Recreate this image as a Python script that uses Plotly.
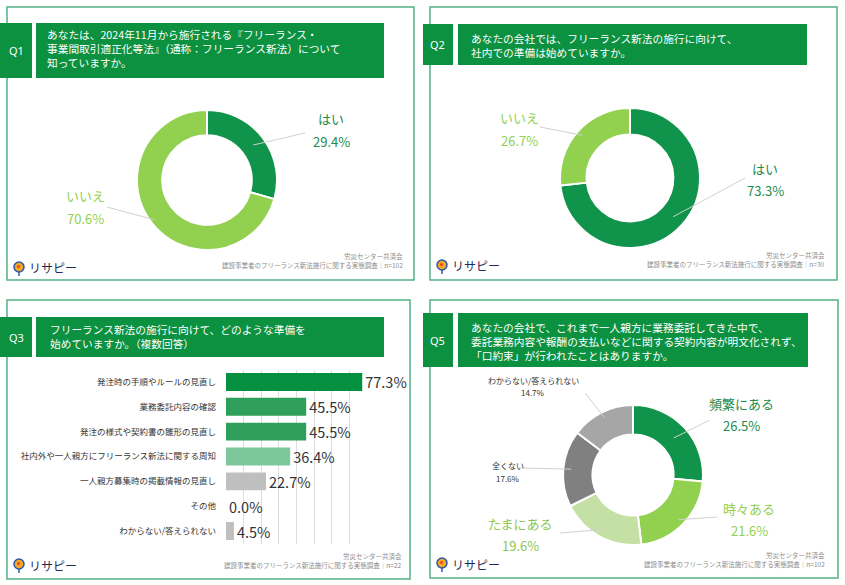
import math
import plotly.graph_objects as go

W, H = 845, 585
FONT = "Noto Sans CJK JP, Noto Sans, sans-serif"

# ---------------- data ----------------
q1_labels = ["はい", "いいえ"]
q1_values = [29.4, 70.6]

q2_labels = ["はい", "いいえ"]
q2_values = [73.3, 26.7]

q3_categories = [
    "発注時の手順やルールの見直し",
    "業務委託内容の確認",
    "発注の様式や契約書の雛形の見直し",
    "社内外や一人親方にフリーランス新法に関する周知",
    "一人親方募集時の掲載情報の見直し",
    "その他",
    "わからない/答えられない",
]
q3_values = [77.3, 45.5, 45.5, 36.4, 22.7, 0.0, 4.5]

q5_labels = ["頻繁にある", "時々ある", "たまにある", "全くない", "わからない/答えられない"]
q5_values = [26.5, 21.6, 19.6, 17.6, 14.7]

question_ids = ["Q1", "Q2", "Q3", "Q5"]
question_texts = [
    "あなたは、2024年11月から施行される『フリーランス・<br>事業間取引適正化等法』（通称：フリーランス新法）について<br>知っていますか。",
    "あなたの会社では、フリーランス新法の施行に向けて、<br>社内での準備は始めていますか。",
    "フリーランス新法の施行に向けて、どのような準備を<br>始めていますか。（複数回答）",
    "あなたの会社で、これまで一人親方に業務委託してきた中で、<br>委託業務内容や報酬の支払いなどに関する契約内容が明文化されず、<br>「口約束」が行われたことはありますか。",
]
sample_sizes = [102, 30, 22, 102]
source_org = "労災センター共済会"
source_title = "建設事業者のフリーランス新法施行に関する実態調査"
logo_text = "リサピー"

# ---------------- styles ----------------
GREEN = "#0b9140"
DARK = "#10934a"
LIGHT = "#92d050"
PALE = "#c5e0a4"
GRAY_D = "#808080"
GRAY_L = "#a6a6a6"
BORDER = "#52b184"


def px(x):
    return x / W


def py(y):
    return 1 - y / H


fig = go.Figure()
shapes = []
annotations = []

# panels: (left, top, right, bottom)
panels = [(7, 7, 414, 280), (430, 7, 837, 280), (7, 300, 410, 579), (430, 300, 838, 578)]
for (l, t, r, b) in panels:
    shapes.append(dict(type="rect", xref="paper", yref="paper", x0=px(l), x1=px(r),
                       y0=py(b), y1=py(t), line=dict(color=BORDER, width=1.5),
                       fillcolor="rgba(0,0,0,0)", layer="below"))

# headers: (qbox_x0, qbox_x1, bar_x0, bar_x1, y0, y1, text_x, text_y)
headers = [
    (0, 32, 36, 384, 23, 78, 45, 48),
    (423, 453, 458, 807, 24, 65, 469, 46),
    (0, 32, 36, 384, 317, 357, 48, 336),
    (423, 453, 458, 808, 313, 367, 469, 341),
]
for i, (qa, qb, ba, bb, y0, y1, tx, ty) in enumerate(headers):
    for (a, b) in [(qa, qb), (ba, bb)]:
        shapes.append(dict(type="rect", xref="paper", yref="paper", x0=px(a), x1=px(b),
                           y0=py(y1), y1=py(y0), line=dict(width=0), fillcolor=GREEN))
    annotations.append(dict(x=px((qa + qb) / 2), y=py((y0 + y1) / 2), xref="paper", yref="paper",
                            text=question_ids[i], showarrow=False,
                            font=dict(family="Noto Sans, sans-serif", size=11, color="white"),
                            xanchor="center", yanchor="middle"))
    annotations.append(dict(x=px(tx), y=py(ty), xref="paper", yref="paper",
                            text=question_texts[i], showarrow=False, align="left",
                            font=dict(family=FONT, size=10.7, color="white"),
                            xanchor="left", yanchor="middle"))

# footers: (right_x, y1, y2, logo_x, logo_y)
footers = [(405, 256, 265, 19, 267), (827, 255, 264, 442, 265), (404, 556, 565, 19, 564), (827, 555, 564, 442, 563)]
for i, (rx, y1, y2, lx, ly) in enumerate(footers):
    annotations.append(dict(x=px(rx), y=py(y1), xref="paper", yref="paper", text=source_org,
                            showarrow=False, xanchor="right", yanchor="middle",
                            font=dict(family=FONT, size=6.5, color="#8c8c8c")))
    annotations.append(dict(x=px(rx), y=py(y2), xref="paper", yref="paper",
                            text=f"{source_title}｜n={sample_sizes[i]}",
                            showarrow=False, xanchor="right", yanchor="middle",
                            font=dict(family=FONT, size=6.5, color="#8c8c8c")))
    # logo pin
    shapes.append(dict(type="line", xref="paper", yref="paper", x0=px(lx), x1=px(lx),
                       y0=py(ly + 3), y1=py(ly + 9), line=dict(color="#2b5aa8", width=1.5)))
    shapes.append(dict(type="circle", xref="paper", yref="paper", x0=px(lx - 5), x1=px(lx + 5),
                       y0=py(ly + 5), y1=py(ly - 5), line=dict(color="#2b5aa8", width=1.5),
                       fillcolor="#f5a623"))
    shapes.append(dict(type="circle", xref="paper", yref="paper", x0=px(lx - 2), x1=px(lx + 1),
                       y0=py(ly + 1), y1=py(ly - 2), line=dict(width=0), fillcolor="#e8452c"))
    annotations.append(dict(x=px(lx + 8), y=py(ly + 1), xref="paper", yref="paper", text=logo_text,
                            showarrow=False, xanchor="left", yanchor="middle",
                            font=dict(family=FONT, size=12, color="#1e2a55")))


def add_donut(labels, values, colors, cx, cy, r, hole):
    fig.add_trace(go.Pie(
        labels=labels, values=values, hole=hole, sort=False, direction="clockwise",
        rotation=0, textinfo="none", hoverinfo="label+percent",
        marker=dict(colors=colors, line=dict(color="white", width=2)),
        domain=dict(x=[px(cx - r), px(cx + r)], y=[py(cy + r), py(cy - r)]),
        showlegend=False,
    ))


def anchor(values, i, cx, cy, r):
    tot = sum(values)
    cum = sum(values[:i]) + values[i] / 2
    ang = cum / tot * 2 * math.pi
    return cx + r * math.sin(ang), cy - r * math.cos(ang)


def pie_label(values, labels, i, cx, cy, ra, end, pos, color, size, gap):
    ax_, ay_ = anchor(values, i, cx, cy, ra)
    shapes.append(dict(type="line", xref="paper", yref="paper", x0=px(ax_), y0=py(ay_),
                       x1=px(end[0]), y1=py(end[1]), line=dict(color="#d0d0d0", width=1)))
    annotations.append(dict(x=px(pos[0]), y=py(pos[1]), xref="paper", yref="paper",
                            text=labels[i], showarrow=False, xanchor="center", yanchor="middle",
                            font=dict(family=FONT, size=size, color=color)))
    annotations.append(dict(x=px(pos[0]), y=py(pos[1] + gap), xref="paper", yref="paper",
                            text=f"{values[i]:.1f}%", showarrow=False, xanchor="center",
                            yanchor="middle", font=dict(family=FONT, size=size, color=color)))


# Q1
add_donut(q1_labels, q1_values, [DARK, LIGHT], 207, 180, 70, 0.64)
pie_label(q1_values, q1_labels, 0, 207, 180, 58, (305, 133), (331, 119), "#1e8a4c", 13, 22)
pie_label(q1_values, q1_labels, 1, 207, 180, 66, (107, 207), (85, 196), LIGHT, 13, 22)

# Q2
add_donut(q2_labels, q2_values, [DARK, LIGHT], 630, 178, 70, 0.62)
pie_label(q2_values, q2_labels, 0, 630, 178, 58, (745, 178), (765, 169), "#1e8a4c", 13, 22)
pie_label(q2_values, q2_labels, 1, 630, 178, 64, (540, 127), (519, 118), LIGHT, 13, 22)

# Q5
q5_colors = [DARK, LIGHT, PALE, GRAY_D, GRAY_L]
add_donut(q5_labels, q5_values, q5_colors, 633, 475, 70, 0.58)
pie_label(q5_values, q5_labels, 0, 633, 475, 55, (710, 420), (741, 403), "#1e8a4c", 13, 22)
pie_label(q5_values, q5_labels, 1, 633, 475, 64, (717, 517), (749, 508), LIGHT, 13, 22)
pie_label(q5_values, q5_labels, 2, 633, 475, 62, (560, 533), (520, 523), "#8cc653", 13, 22)
pie_label(q5_values, q5_labels, 3, 633, 475, 62, (522, 468), (508, 465), "#333333", 8, 13)
pie_label(q5_values, q5_labels, 4, 633, 475, 64, (585, 393), (533, 380), "#333333", 8, 13)

# Q3 bar chart
bar_colors = ["#03913f", "#2ea05c", "#2ea05c", "#7cc79a", "#bfbfbf", "#bfbfbf", "#bfbfbf"]
fig.add_trace(go.Bar(
    x=q3_values, y=q3_categories, orientation="h",
    marker=dict(color=bar_colors, line=dict(width=0)),
    width=0.72,
    text=[f"{v:.1f}%" for v in q3_values], textposition="outside",
    textfont=dict(family=FONT, size=14.5, color="#333333"),
    constraintext="none", cliponaxis=False,
    showlegend=False, xaxis="x", yaxis="y",
))

fig.update_layout(
    width=W, height=H,
    margin=dict(l=0, r=0, t=0, b=0),
    paper_bgcolor="white", plot_bgcolor="white",
    font=dict(family=FONT),
    shapes=shapes, annotations=annotations,
    xaxis=dict(domain=[px(226), px(367)], range=[0, 80], tickvals=[10, 20, 30, 40, 50, 60, 70, 80],
               showticklabels=False, showgrid=True, gridcolor="#dcdcdc", gridwidth=1,
               zeroline=False, showline=False, fixedrange=True),
    yaxis=dict(domain=[py(543.5), py(369.5)], categoryorder="array", categoryarray=q3_categories,
               autorange="reversed", showgrid=False, zeroline=False, showline=False,
               ticks="", ticklabelstandoff=9,
               tickfont=dict(family=FONT, size=8.5, color="#333333"), fixedrange=True),
)

fig.write_html("out.html", config={"displayModeBar": False},
               post_script="document.body.style.margin='0';document.body.style.overflow='hidden';")
